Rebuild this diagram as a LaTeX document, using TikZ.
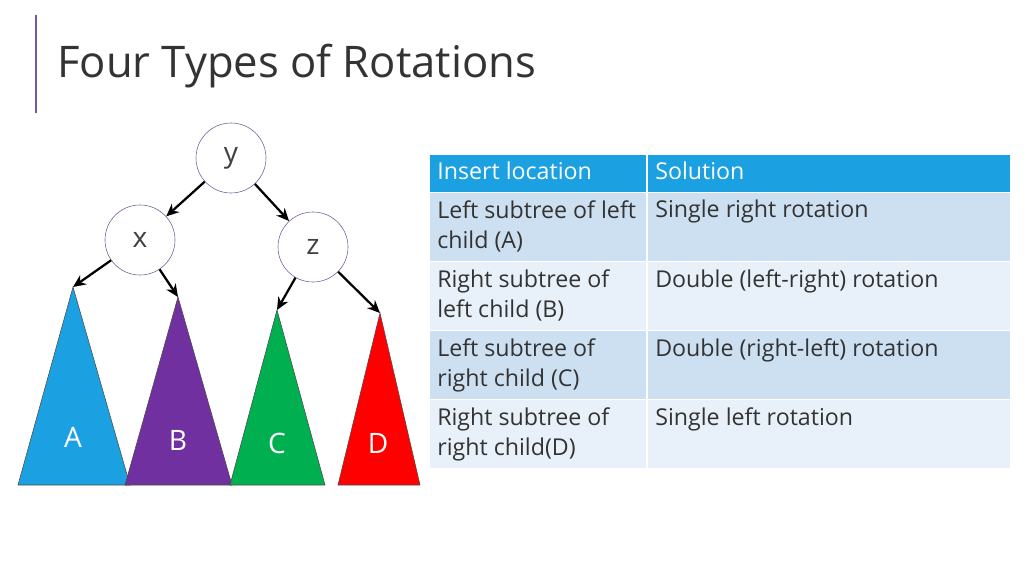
\documentclass[tikz,border=0pt]{standalone}
\usepackage{fontspec}
\setmainfont{Open Sans}
\usetikzlibrary{arrows.meta}
\definecolor{tblue}{RGB}{27,161,226}
\definecolor{tpurple}{RGB}{112,48,160}
\definecolor{tgreen}{RGB}{0,176,80}
\definecolor{tred}{RGB}{255,0,0}
\definecolor{rowa}{RGB}{205,224,241}
\definecolor{rowb}{RGB}{232,241,249}
\definecolor{ringcol}{RGB}{120,90,150}
\begin{document}
\begin{tikzpicture}[x=0.025cm,y=-0.025cm,>={Stealth[length=9pt,width=8pt]},
    main node/.style={circle,draw=ringcol,thin,fill=white,minimum size=1.75cm,inner sep=0pt,font=\fontsize{20}{22}\selectfont,text=black!75},
    tree edge/.style={->,line width=1.6pt},
    sub tree/.style={draw=black!70,thin},
    tree label/.style={font=\fontsize{20}{22}\selectfont,text=white},
    head cell/.style={fill=tblue},
    cell text/.style={anchor=north west,align=left,inner sep=0pt,font=\fontsize{16.5}{21.5}\selectfont,text=black!80}]
  \useasboundingbox (0,0) rectangle (1024,576);
  % Title
  \draw[ringcol,line width=1pt] (36,15) -- (36,113);
  \node[anchor=base west,inner sep=0pt,font=\fontsize{31}{36}\selectfont,text=black!80] (title) at (57,78) {Four Types of Rotations};
  % Subtrees
  \draw[sub tree,fill=tblue]   (73,287)  -- (130,485) -- (18,485)  -- cycle;
  \draw[sub tree,fill=tpurple] (178,297) -- (232,485) -- (125,485) -- cycle;
  \draw[sub tree,fill=tgreen]  (277,310) -- (325,485) -- (230,485) -- cycle;
  \draw[sub tree,fill=tred]    (380,313) -- (420,485) -- (338,485) -- cycle;
  \coordinate (A) at (73,287);
  \coordinate (B) at (178,297);
  \coordinate (C) at (277,310);
  \coordinate (D) at (380,313);
  \node[tree label] (la) at (73,437) {A};
  \node[tree label] (lb) at (178,440) {B};
  \node[tree label] (lc) at (277,443) {C};
  \node[tree label] (ld) at (378,443) {D};
  % Nodes
  \node[main node] (y) at (231,158) {y};
  \node[main node] (x) at (140,240) {x};
  \node[main node] (z) at (313,247) {z};
  % Edges
  \draw[tree edge] (y) -- (x);
  \draw[tree edge] (y) -- (z);
  \draw[tree edge] (x) -- (A);
  \draw[tree edge] (x) -- (B);
  \draw[tree edge] (z) -- (C);
  \draw[tree edge] (z) -- (D);
  % Table
  \fill[head cell] (430,155) rectangle (646,192);
  \fill[head cell] (648,155) rectangle (1010,192);
  \foreach \top/\col in {193/rowa,262/rowb,331/rowa,400/rowb}{
    \fill[\col] (430,\top) rectangle (646,\top+68);
    \fill[\col] (648,\top) rectangle (1010,\top+68);
  }
  \node[cell text,text=white] (h1) at (437,162) {Insert location};
  \node[cell text,text=white] (h2) at (655,162) {Solution};
  \node[cell text] (r1a) at (437,200) {Left subtree of left\\child (A)};
  \node[cell text] (r1b) at (655,200) {Single right rotation};
  \node[cell text] (r2a) at (437,269) {Right subtree of\\left child (B)};
  \node[cell text] (r2b) at (655,269) {Double (left-right) rotation};
  \node[cell text] (r3a) at (437,338) {Left subtree of\\right child (C)};
  \node[cell text] (r3b) at (655,338) {Double (right-left) rotation};
  \node[cell text] (r4a) at (437,407) {Right subtree of\\right child(D)};
  \node[cell text] (r4b) at (655,407) {Single left rotation};
\end{tikzpicture}
\end{document}
